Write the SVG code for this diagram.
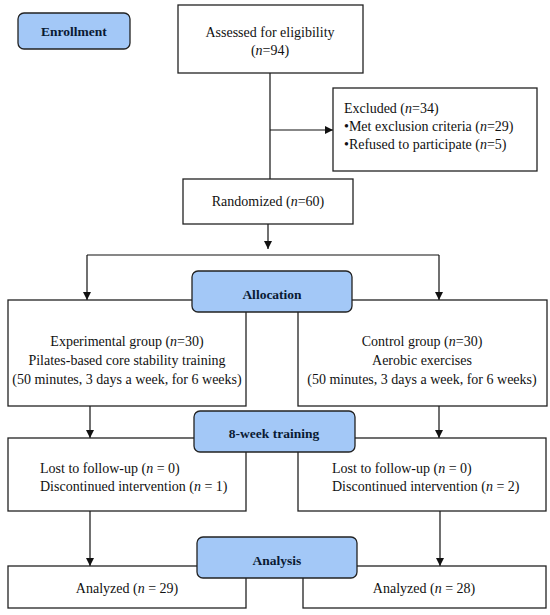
<svg xmlns="http://www.w3.org/2000/svg" width="550" height="615" viewBox="0 0 550 615">
<defs>
<marker id="ah" viewBox="0 0 10 10" refX="10" refY="5" markerWidth="8" markerHeight="8" markerUnits="userSpaceOnUse" orient="auto">
<path d="M0,0 L10,5 L0,10 z" fill="#111"/>
</marker>
<style>
.box{fill:#fff;stroke:#222;stroke-width:1.3}
.hdr{fill:#a3c8f7;stroke:#222;stroke-width:1.3}
.t{font-family:"Liberation Serif",serif;font-size:14px;fill:#111}
.c{text-anchor:middle}
.b{font-weight:bold;font-size:13.5px;fill:#0a1a33}
.ln{stroke:#111;stroke-width:1.2;fill:none}
.ar{stroke:#111;stroke-width:1.2;fill:none;marker-end:url(#ah)}
</style>
</defs>
<rect width="550" height="615" fill="#fff"/>
<g id="connectors">
<path class="ln" d="M270,73 V179"/>
<path class="ar" d="M270,130 H333"/>
<path class="ar" d="M268,224 V249"/>
<path class="ln" d="M87,255 H439"/>
<path class="ar" d="M87,255 V300"/>
<path class="ar" d="M439,255 V300"/>
<path class="ar" d="M90,406 V438"/>
<path class="ar" d="M439,406 V438"/>
<path class="ar" d="M90,511 V566"/>
<path class="ar" d="M440,511 V566"/>
</g>
<g id="enrollment">
<rect class="hdr" x="18" y="13" width="112" height="36" rx="6"/>
<text class="t c b" x="74" y="36">Enrollment</text>
</g>
<g id="assessed">
<rect class="box" x="178" y="5" width="185" height="68"/>
<text class="t c" x="270" y="37">Assessed for eligibility</text>
<text class="t c" x="270" y="55">(<tspan font-style="italic">n</tspan>=94)</text>
</g>
<g id="excluded">
<rect class="box" x="333" y="88" width="204" height="83"/>
<text class="t" x="344" y="113">Excluded (<tspan font-style="italic">n</tspan>=34)</text>
<text class="t" x="344" y="131">•Met exclusion criteria (<tspan font-style="italic">n</tspan>=29)</text>
<text class="t" x="344" y="149">•Refused to participate (<tspan font-style="italic">n</tspan>=5)</text>
</g>
<g id="randomized">
<rect class="box" x="183" y="179" width="170" height="45"/>
<text class="t c" x="268" y="206">Randomized (<tspan font-style="italic">n</tspan>=60)</text>
</g>
<g id="experimental">
<rect class="box" x="8" y="300" width="238" height="106"/>
<text class="t c" x="127" y="346">Experimental group (<tspan font-style="italic">n</tspan>=30)</text>
<text class="t c" x="127" y="365">Pilates-based core stability training</text>
<text class="t c" x="127" y="384">(50 minutes, 3 days a week, for 6 weeks)</text>
</g>
<g id="control">
<rect class="box" x="298" y="300" width="249" height="106"/>
<text class="t c" x="422" y="346">Control group (<tspan font-style="italic">n</tspan>=30)</text>
<text class="t c" x="422" y="365">Aerobic exercises</text>
<text class="t c" x="422" y="384">(50 minutes, 3 days a week, for 6 weeks)</text>
</g>
<g id="allocation">
<rect class="hdr" x="192" y="271" width="160" height="41" rx="6"/>
<text class="t c b" x="272" y="299">Allocation</text>
</g>
<g id="lost-left">
<rect class="box" x="8" y="438" width="238" height="73"/>
<text class="t" x="40" y="473">Lost to follow-up (<tspan font-style="italic">n</tspan> = 0)</text>
<text class="t" x="40" y="491">Discontinued intervention (<tspan font-style="italic">n</tspan> = 1)</text>
</g>
<g id="lost-right">
<rect class="box" x="298" y="438" width="248" height="73"/>
<text class="t" x="332" y="473">Lost to follow-up (<tspan font-style="italic">n</tspan> = 0)</text>
<text class="t" x="332" y="491">Discontinued intervention (<tspan font-style="italic">n</tspan> = 2)</text>
</g>
<g id="training">
<rect class="hdr" x="194" y="411" width="161" height="41" rx="6"/>
<text class="t c b" x="274" y="438">8-week training</text>
</g>
<g id="analyzed-left">
<rect class="box" x="8" y="566" width="238" height="42"/>
<text class="t c" x="127" y="593">Analyzed (<tspan font-style="italic">n</tspan> = 29)</text>
</g>
<g id="analyzed-right">
<rect class="box" x="303" y="566" width="243" height="42"/>
<text class="t c" x="424" y="593">Analyzed (<tspan font-style="italic">n</tspan> = 28)</text>
</g>
<g id="analysis">
<rect class="hdr" x="197" y="537" width="160" height="41" rx="6"/>
<text class="t c b" x="277" y="565">Analysis</text>
</g>
</svg>
